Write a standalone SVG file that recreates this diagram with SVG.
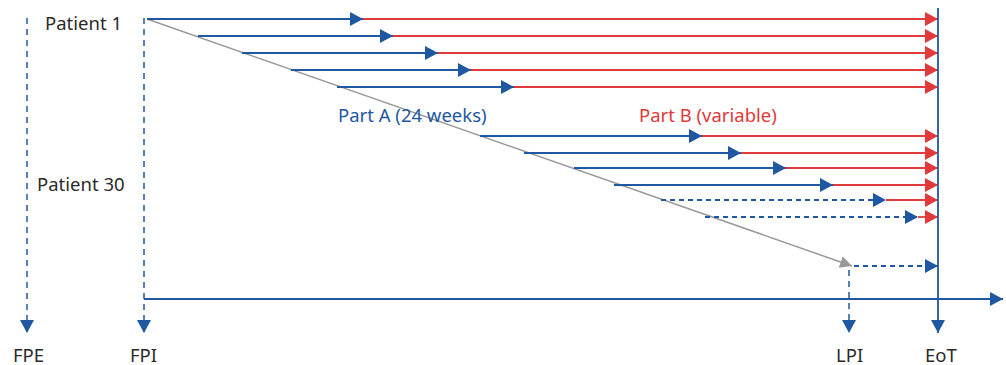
<svg xmlns="http://www.w3.org/2000/svg" width="1006" height="365" viewBox="0 0 1006 365">
<style>
text{font-family:"Noto Sans","Open Sans",sans-serif;font-size:18.5px}
.lbl{fill:#2a2a2a}
.blue{stroke:#1f58a0;stroke-width:1.8;fill:none}
.red{stroke:#e03a3a;stroke-width:1.8;fill:none}
.dash{stroke-dasharray:5,4}
.vdash{stroke:#1f58a0;stroke-width:1.5;stroke-dasharray:6,5;fill:none}
</style>
<defs>
<marker id="ab" markerUnits="userSpaceOnUse" markerWidth="14" markerHeight="14" refX="13" refY="7" orient="auto"><path d="M0,0 L13,7 L0,14 z" fill="#1f58a0"/></marker>
<marker id="ar" markerUnits="userSpaceOnUse" markerWidth="14" markerHeight="14" refX="13" refY="7" orient="auto"><path d="M0,0 L13,7 L0,14 z" fill="#e03a3a"/></marker>
<marker id="ag" markerUnits="userSpaceOnUse" markerWidth="14" markerHeight="14" refX="12" refY="6" orient="auto"><path d="M0,0 L12,6 L0,12 z" fill="#999"/></marker>
</defs>
<g id="connectors">
<line x1="147" y1="19" x2="852" y2="266" stroke="#999" stroke-width="1.5" marker-end="url(#ag)"/>
<line class="blue" x1="147" y1="19" x2="363" y2="19" marker-end="url(#ab)"/>
<line class="red" x1="363" y1="19" x2="938" y2="19" marker-end="url(#ar)"/>
<line class="blue" x1="198" y1="36" x2="393" y2="36" marker-end="url(#ab)"/>
<line class="red" x1="393" y1="36" x2="938" y2="36" marker-end="url(#ar)"/>
<line class="blue" x1="242" y1="53" x2="438" y2="53" marker-end="url(#ab)"/>
<line class="red" x1="438" y1="53" x2="938" y2="53" marker-end="url(#ar)"/>
<line class="blue" x1="291" y1="70" x2="471" y2="70" marker-end="url(#ab)"/>
<line class="red" x1="471" y1="70" x2="938" y2="70" marker-end="url(#ar)"/>
<line class="blue" x1="337" y1="87" x2="514" y2="87" marker-end="url(#ab)"/>
<line class="red" x1="514" y1="87" x2="938" y2="87" marker-end="url(#ar)"/>
<line class="blue" x1="480" y1="136" x2="702" y2="136" marker-end="url(#ab)"/>
<line class="red" x1="702" y1="136" x2="938" y2="136" marker-end="url(#ar)"/>
<line class="blue" x1="524" y1="153" x2="741" y2="153" marker-end="url(#ab)"/>
<line class="red" x1="741" y1="153" x2="938" y2="153" marker-end="url(#ar)"/>
<line class="blue" x1="574" y1="168" x2="786" y2="168" marker-end="url(#ab)"/>
<line class="red" x1="786" y1="168" x2="938" y2="168" marker-end="url(#ar)"/>
<line class="blue" x1="614" y1="185" x2="833" y2="185" marker-end="url(#ab)"/>
<line class="red" x1="833" y1="185" x2="938" y2="185" marker-end="url(#ar)"/>
<line class="blue dash" x1="661" y1="200" x2="886" y2="200" marker-end="url(#ab)"/>
<line class="red" x1="886" y1="200" x2="938" y2="200" marker-end="url(#ar)"/>
<line class="blue dash" x1="705" y1="217" x2="918" y2="217" marker-end="url(#ab)"/>
<line class="red" x1="918" y1="217" x2="938" y2="217" marker-end="url(#ar)"/>
<line class="blue dash" x1="854" y1="266" x2="938" y2="266" marker-end="url(#ab)"/>
<line class="blue" x1="144" y1="299" x2="1003" y2="299" marker-end="url(#ab)"/>
<line class="vdash" x1="27" y1="18" x2="27" y2="333" marker-end="url(#ab)"/>
<line class="vdash" x1="144" y1="18" x2="144" y2="333" marker-end="url(#ab)"/>
<line class="vdash" x1="849" y1="270" x2="849" y2="333" marker-end="url(#ab)"/>
<line stroke="#1f58a0" stroke-width="1.8" x1="938" y1="8" x2="938" y2="333" marker-end="url(#ab)"/>
</g>
<g id="labels">
<text class="lbl" x="45" y="30">Patient 1</text>
<text class="lbl" x="37" y="191">Patient 30</text>
<text x="338" y="122" fill="#1f58a0">Part A (24 weeks)</text>
<text x="639" y="122" fill="#e03a3a">Part B (variable)</text>
<text class="lbl" x="13" y="362">FPE</text>
<text class="lbl" x="130" y="362">FPI</text>
<text class="lbl" x="836" y="362">LPI</text>
<text class="lbl" x="925" y="362">EoT</text>
</g>
</svg>
